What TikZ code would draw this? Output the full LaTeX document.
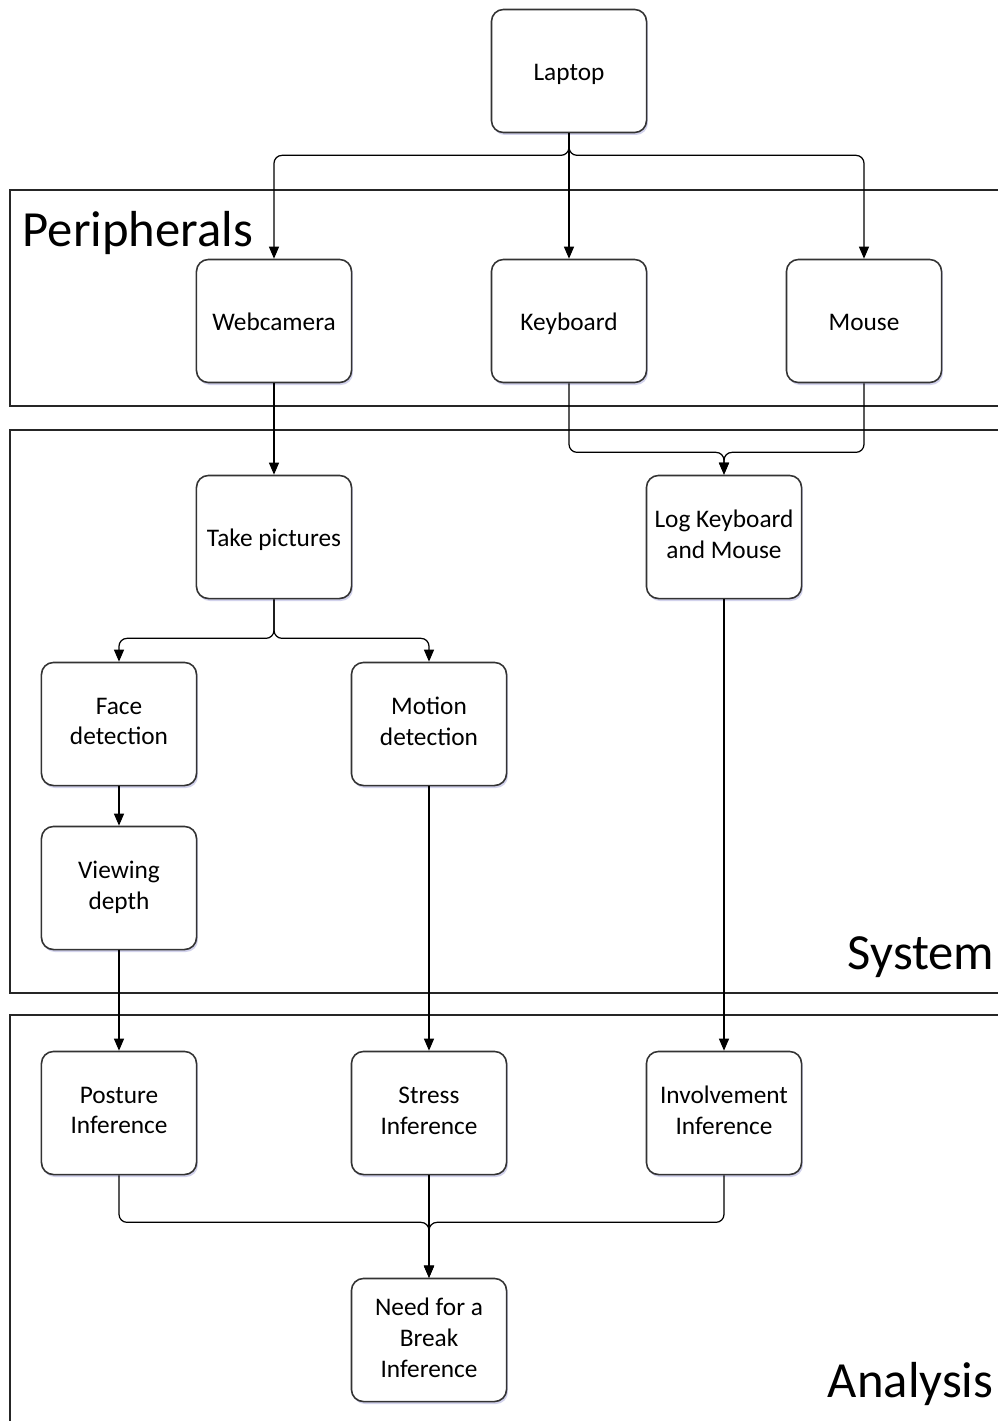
\documentclass[tikz,border=0pt]{standalone}
\usepackage{fontspec}
\setmainfont{Carlito}
\usepackage{tikz}
\usetikzlibrary{
    arrows.meta,
    positioning,
    shadows
}
\tikzstyle{box} = [draw=black!80, line width=0.45pt, rounded corners=0.12cm,
    minimum width=1.55cm, minimum height=1.23cm, inner xsep=1pt, align=center, fill=white,
    font=\fontsize{7.2}{8.8}\selectfont,
    execute at begin node={\rule{0pt}{7pt}}, execute at end node={\rule[-1.5pt]{0pt}{1.5pt}},
    drop shadow={shadow xshift=0.4pt, shadow yshift=-0.7pt, fill=blue!40!gray, opacity=0.25}]
\tikzstyle{arrow} = [-{Triangle[length=1.2mm, width=1mm]}, line width=0.35pt, rounded corners=0.08cm]
\tikzstyle{group} = [draw=black!85, line width=0.5pt]
\tikzstyle{grouplabel} = [inner sep=0pt, font=\fontsize{14.4}{16}\selectfont]

\begin{document}
\begin{tikzpicture}[x=0.01cm, y=-0.01cm]

\useasboundingbox (0,0) rectangle (998,1421);

% Groups
\draw[group] (10,190) rectangle (1010,406);
\draw[group] (10,430) rectangle (1010,993);
\draw[group] (10,1015) rectangle (1010,1440);

\node[grouplabel, anchor=base west] (periph) at (22,246) {Peripherals};
\node[grouplabel, anchor=base east] (system) at (995,969) {System};
\node[grouplabel, anchor=base east] (analysis) at (994,1397) {Analysis};

% Boxes
\node[box] (laptop) at (569,71) {Laptop};
\node[box] (webcam) at (274,321) {Webcamera};
\node[box] (keyboard) at (569,321) {Keyboard};
\node[box] (mouse) at (864,321) {Mouse};
\node[box] (pics) at (274,537) {Take pictures};
\node[box] (logkm) at (724,537) {Log Keyboard\\and Mouse};
\node[box] (face) at (119,724) {Face\\detection};
\node[box] (motion) at (429,724) {Motion\\detection};
\node[box] (depth) at (119,888) {Viewing\\depth};
\node[box] (posture) at (119,1113) {Posture\\Inference};
\node[box] (stress) at (429,1113) {Stress\\Inference};
\node[box] (involve) at (724,1113) {Involvement\\Inference};
\node[box] (brk) at (429,1340) {Need for a\\Break\\Inference};

% Connectors
\draw[arrow] (laptop.south) -- ++(0,22) -| (webcam.north);
\draw[arrow] (laptop.south) -- (keyboard.north);
\draw[arrow] (laptop.south) -- ++(0,22) -| (mouse.north);

\draw[arrow] (webcam.south) -- (pics.north);
\draw[arrow] (keyboard.south) -- ++(0,69) -| (logkm.north);
\draw[arrow] (mouse.south) -- ++(0,69) -| (logkm.north);

\draw[arrow] (pics.south) -- ++(0,39) -| (face.north);
\draw[arrow] (pics.south) -- ++(0,39) -| (motion.north);
\draw[arrow] (face.south) -- (depth.north);

\draw[arrow] (depth.south) -- (posture.north);
\draw[arrow] (motion.south) -- (stress.north);
\draw[arrow] (logkm.south) -- (involve.north);

\draw[arrow] (posture.south) -- ++(0,47) -| (brk.north);
\draw[arrow] (stress.south) -- (brk.north);
\draw[arrow] (involve.south) -- ++(0,47) -| (brk.north);

\end{tikzpicture}
\end{document}
